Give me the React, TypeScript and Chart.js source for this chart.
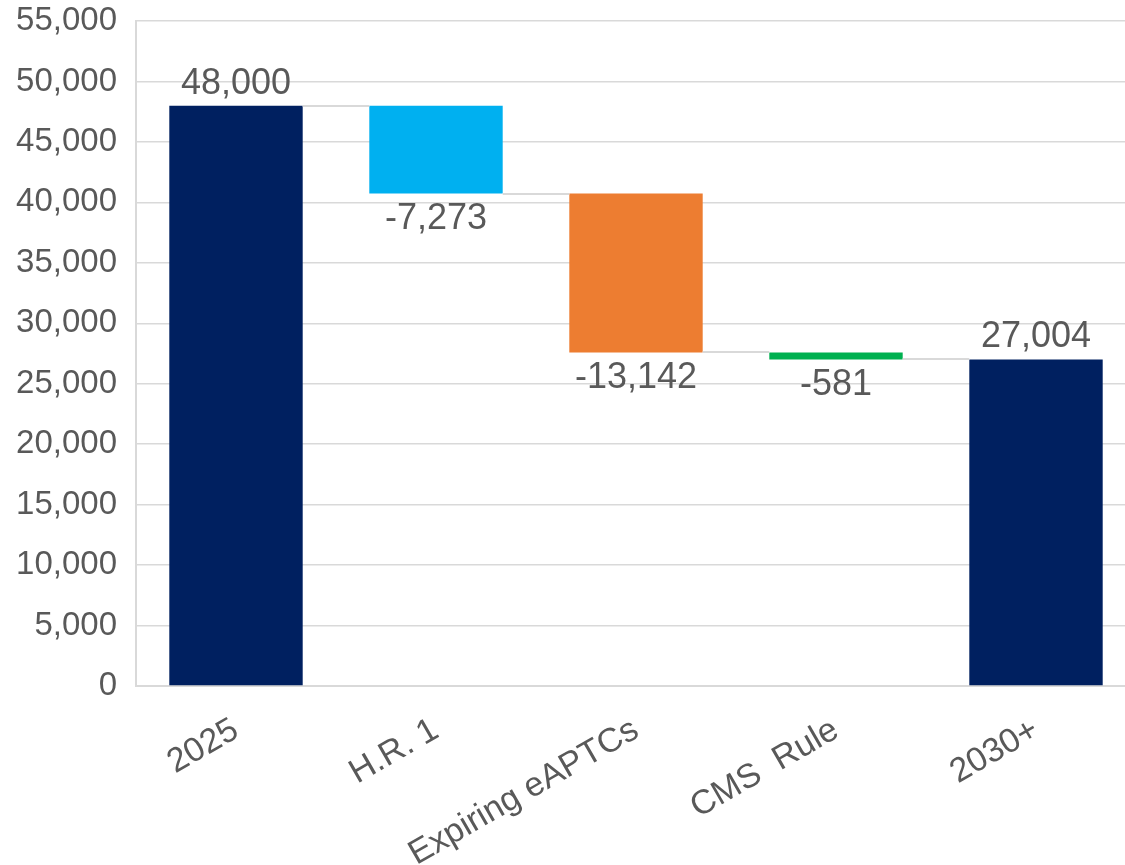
import React, { useEffect, useRef } from "react";
import { Chart, registerables } from "chart.js";

Chart.register(...registerables);

const categories = ["2025", "H.R. 1", "Expiring eAPTCs", "CMS  Rule", "2030+"];
const startValue = 48000;
const changes = [-7273, -13142, -581];
const endValue = 27004;
const barColors = ["#002060", "#00B0F0", "#ED7D31", "#00B050", "#002060"];
const yMin = 0;
const yMax = 55000;
const yStep = 5000;

const fmt = (v: number) => v.toLocaleString("en-US");

// Build floating ranges from the values
const ranges: [number, number][] = [];
const labelValues: number[] = [];
const levels: number[] = [];
{
  let level = startValue;
  ranges.push([0, startValue]);
  labelValues.push(startValue);
  levels.push(level);
  for (const c of changes) {
    ranges.push([level + c, level]);
    labelValues.push(c);
    level += c;
    levels.push(level);
  }
  ranges.push([0, endValue]);
  labelValues.push(endValue);
  levels.push(endValue);
}

const TEXT = "#595959";
const FONT = "'Liberation Sans', Arial, sans-serif";

const waterfallPlugin = {
  id: "waterfallExtras",
  afterDatasetsDraw(chart: any) {
    const ctx = chart.ctx;
    const meta = chart.getDatasetMeta(0);
    const y = chart.scales.y;
    ctx.save();
    // connectors
    ctx.strokeStyle = "#d9d9d9";
    ctx.lineWidth = 2;
    for (let i = 0; i < meta.data.length - 1; i++) {
      const a = meta.data[i];
      const b = meta.data[i + 1];
      const py = Math.round(y.getPixelForValue(levels[i]));
      ctx.beginPath();
      ctx.moveTo(a.x + a.width / 2, py);
      ctx.lineTo(b.x - b.width / 2, py);
      ctx.stroke();
    }
    // labels
    ctx.fillStyle = TEXT;
    ctx.font = `36px ${FONT}`;
    ctx.textAlign = "center";
    meta.data.forEach((el: any, i: number) => {
      const v = labelValues[i];
      const [lo, hi] = ranges[i];
      if (v >= 0) {
        ctx.textBaseline = "alphabetic";
        ctx.fillText(fmt(v), el.x, y.getPixelForValue(hi) - 12);
      } else {
        ctx.textBaseline = "top";
        ctx.fillText(fmt(v), el.x, y.getPixelForValue(lo) + 8);
      }
    });
    ctx.restore();
  },
};

export default function App() {
  const ref = useRef<HTMLCanvasElement>(null);
  useEffect(() => {
    if (!ref.current) return;
    const chart = new Chart(ref.current, {
      type: "bar",
      data: {
        labels: categories,
        datasets: [
          {
            data: ranges as any,
            backgroundColor: barColors,
            borderWidth: 0,
            categoryPercentage: 0.667,
            barPercentage: 1,
          },
        ],
      },
      options: {
        responsive: false,
        animation: false,
        devicePixelRatio: 1,
        layout: { padding: { top: 21, right: 4, left: 0, bottom: 0 } },
        plugins: {
          legend: { display: false },
          tooltip: { enabled: false },
        },
        scales: {
          x: {
            grid: { display: false, drawTicks: false },
            border: { display: true, color: "#d9d9d9", width: 2 },
            afterFit: (s: any) => {
              s.height = 179;
              s.paddingLeft = 0;
              s.paddingRight = 0;
            },
            ticks: {
              color: TEXT,
              font: { family: FONT, size: 34 },
              minRotation: 30,
              maxRotation: 30,
              padding: 24,
              autoSkip: false,
            },
          },
          y: {
            min: yMin,
            max: yMax,
            grid: { color: "#d9d9d9", lineWidth: 1.5, drawTicks: false },
            border: { display: true, color: "#d9d9d9", width: 2 },
            afterFit: (s: any) => {
              s.width = 136;
              s.paddingTop = 0;
              s.paddingBottom = 0;
            },
            ticks: {
              stepSize: yStep,
              color: TEXT,
              font: { family: FONT, size: 33 },
              padding: 19,
              callback: (v: any) => fmt(Number(v)),
            },
          },
        },
      },
      plugins: [waterfallPlugin],
    });
    return () => chart.destroy();
  }, []);
  return (
    <div
      style={{
        position: "fixed",
        left: 0,
        top: 0,
        width: 1125,
        height: 865,
        overflow: "hidden",
        background: "#fff",
      }}
    >
      <canvas ref={ref} width={1140} height={865} style={{ width: 1140, height: 865, display: "block" }} />
    </div>
  );
}
